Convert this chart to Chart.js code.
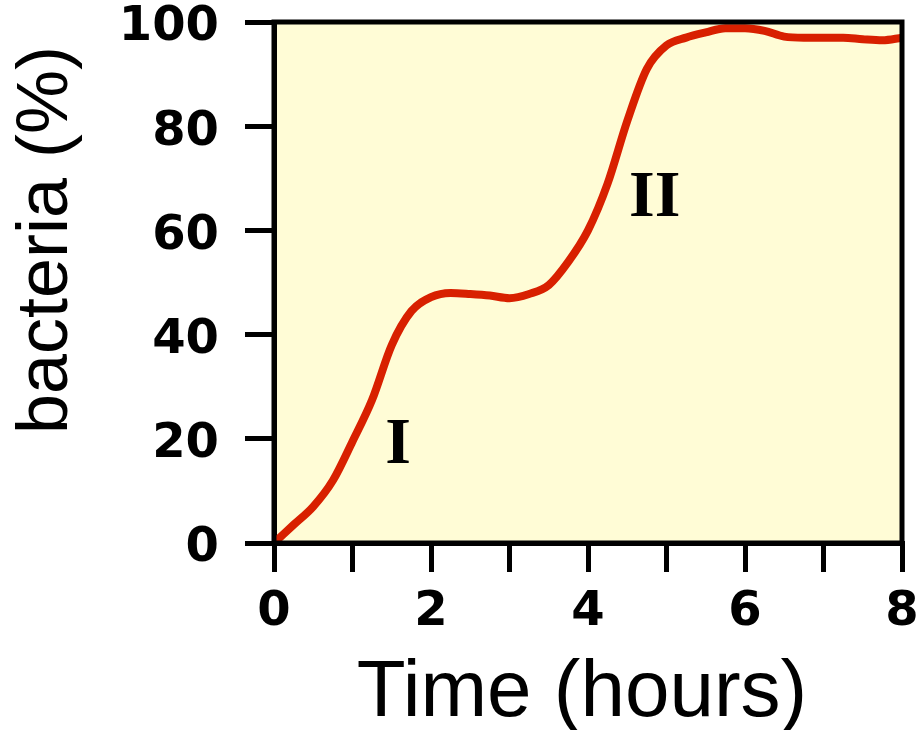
<!DOCTYPE html>
<html>
<head>
<meta charset="utf-8">
<script src="https://cdn.jsdelivr.net/npm/chart.js@4.4.0/dist/chart.umd.min.js"></script>
<style>
  html, body { margin: 0; padding: 0; background: #fff; }
  #wrap { width: 919px; height: 730px; }
</style>
</head>
<body>
<div id="wrap"><canvas id="growthChart" width="919" height="730"></canvas></div>
<script>
// Data
const hours = [0, 0.25, 0.5, 0.75, 1, 1.25, 1.5, 1.75, 2, 2.25, 2.5, 2.75, 3, 3.25, 3.5, 3.75,
  4, 4.25, 4.5, 4.75, 5, 5.25, 5.5, 5.75, 6, 6.25, 6.5, 6.75, 7, 7.25, 7.5, 7.75, 8];
const bacteria = [0, 3.5, 7, 12, 19.5, 27.5, 38, 44.5, 47.2, 48, 47.8, 47.5, 47, 47.8, 49.5, 54,
  60, 69, 81, 91, 95.5, 97, 98, 98.8, 98.8, 98.3, 97.2, 97, 97, 97, 96.7, 96.5, 97];
const phaseLabels = ["I", "II"];
const phaseX = [1.58, 4.85];
const phaseY = [15.4, 62.8];
const xTitle = "Time (hours)";
const yTitle = "bacteria (%)";

// Yellow plot background
const plotBackground = {
  id: "plotBackground",
  beforeDraw(chart) {
    const { ctx, chartArea: a } = chart;
    ctx.save();
    ctx.fillStyle = "#fffcd6";
    ctx.fillRect(a.left, a.top, a.right - a.left, a.bottom - a.top);
    ctx.restore();
  }
};

// Frame, phase labels and axis titles
const overlay = {
  id: "overlay",
  afterDatasetsDraw(chart) {
    const { ctx, chartArea: a, scales } = chart;
    ctx.save();
    ctx.strokeStyle = "#000";
    ctx.lineWidth = 5;
    ctx.strokeRect(a.left, a.top, a.right - a.left, a.bottom - a.top);

    ctx.fillStyle = "#000";
    ctx.font = "bold 66px 'Liberation Serif', 'Times New Roman', serif";
    ctx.textAlign = "center";
    ctx.textBaseline = "alphabetic";
    phaseLabels.forEach((t, i) => {
      ctx.fillText(t, scales.x.getPixelForValue(phaseX[i]), scales.y.getPixelForValue(phaseY[i]));
    });

    ctx.font = "80px 'Liberation Sans', Arial, sans-serif";
    ctx.fillText(xTitle, 582, 716);

    ctx.translate(67, 240);
    ctx.rotate(-Math.PI / 2);
    ctx.font = "72px 'Liberation Sans', Arial, sans-serif";
    ctx.fillText(yTitle, 0, 0);
    ctx.restore();
  }
};

function noScalePadding(scale) {
  scale.paddingTop = 0;
  scale.paddingBottom = 0;
  scale.paddingLeft = 0;
  scale.paddingRight = 0;
}

const tickFont = { family: "'DejaVu Sans', Verdana, sans-serif", size: 48, weight: "bold" };

new Chart(document.getElementById("growthChart").getContext("2d"), {
  type: "line",
  data: {
    datasets: [{
      data: hours.map((h, i) => ({ x: h, y: bacteria[i] })),
      borderColor: "#d82000",
      borderWidth: 8,
      pointRadius: 0,
      tension: 0.4,
      cubicInterpolationMode: "monotone",
      fill: false
    }]
  },
  options: {
    responsive: false,
    animation: false,
    layout: { autoPadding: false, padding: { top: 22, right: 17, left: 0, bottom: 0 } },
    plugins: { legend: { display: false }, tooltip: { enabled: false } },
    scales: {
      x: {
        type: "linear",
        min: 0,
        max: 8,
        afterFit(scale) { scale.height = 187; noScalePadding(scale); },
        ticks: {
          stepSize: 1,
          autoSkip: false,
          maxRotation: 0,
          padding: 12,
          color: "#000",
          font: tickFont,
          callback: v => (v % 2 === 0 ? v : "")
        },
        grid: { drawOnChartArea: false, tickLength: 29, lineWidth: 5, color: "#000" },
        border: { display: true, width: 5, color: "#000" }
      },
      y: {
        min: 0,
        max: 100,
        afterFit(scale) { scale.width = 274; noScalePadding(scale); },
        ticks: { stepSize: 20, padding: 26, labelOffset: 6, color: "#000", font: tickFont },
        grid: { drawOnChartArea: false, tickLength: 29, lineWidth: 5, color: "#000" },
        border: { display: true, width: 5, color: "#000" }
      }
    }
  },
  plugins: [plotBackground, overlay]
});
</script>
</body>
</html>
